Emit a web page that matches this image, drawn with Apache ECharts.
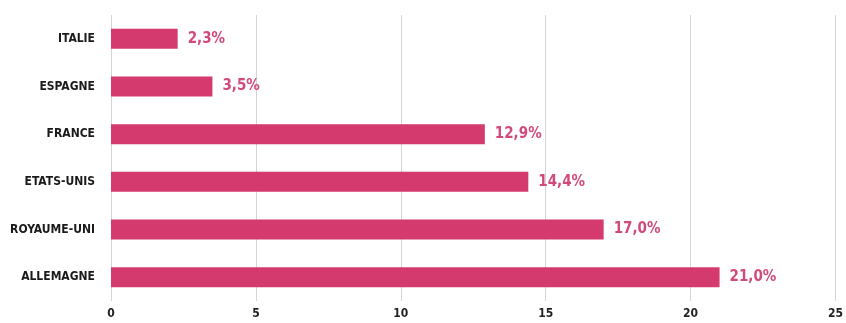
<!DOCTYPE html>
<html>
<head>
<meta charset="utf-8">
<script src="https://cdn.jsdelivr.net/npm/echarts@6/dist/echarts.min.js"></script>
<style>
  html, body { margin: 0; padding: 0; background: #fff; }
  #chart { width: 846px; height: 323px; }
</style>
</head>
<body>
<div id="chart"></div>
<script>
// categories, bottom to top (category axis draws first item at the bottom)
const countries = ["ALLEMAGNE", "ROYAUME-UNI", "ETATS-UNIS", "FRANCE", "ESPAGNE", "ITALIE"];
const shares = [21.0, 17.0, 14.4, 12.9, 3.5, 2.3];
const xTicks = [0, 5, 10, 15, 20, 25];

const chart = echarts.init(document.getElementById("chart"));

const condensed = "'Liberation Sans Narrow', 'DejaVu Sans Condensed', 'Roboto Condensed', sans-serif";

const option = {
  animation: false,
  grid: {
    left: 111,
    right: 10,
    top: 15,
    bottom: 22
  },
  xAxis: {
    type: "value",
    min: xTicks[0],
    max: xTicks[xTicks.length - 1],
    interval: 5,
    axisLine: { show: false },
    axisTick: { show: false },
    axisLabel: {
      color: "#222",
      fontFamily: condensed,
      fontWeight: "bold",
      fontSize: 12,
      margin: 7
    },
    splitLine: {
      lineStyle: { color: "#d4d4d4", width: 1 }
    }
  },
  yAxis: {
    type: "category",
    data: countries,
    axisLine: { show: false },
    axisTick: { show: false },
    axisLabel: {
      color: "#1a1a1a",
      fontFamily: condensed,
      fontWeight: "bold",
      fontSize: 12,
      margin: 16
    }
  },
  series: [
    {
      type: "bar",
      data: shares,
      barWidth: 20,
      itemStyle: { color: "#d43a6e" },
      label: {
        show: true,
        position: "right",
        distance: 10,
        color: "#d24a7c",
        fontFamily: condensed,
        fontWeight: "bold",
        fontSize: 15,
        formatter: p => p.value.toFixed(1).replace(".", ",") + "%"
      }
    }
  ]
};

chart.setOption(option);
</script>
</body>
</html>
